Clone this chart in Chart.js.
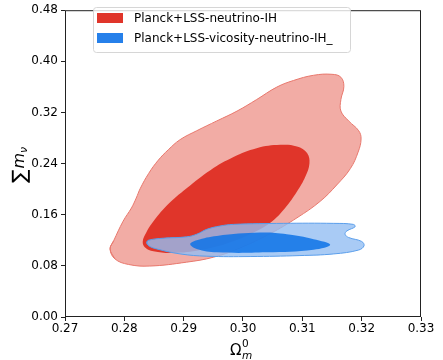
<!DOCTYPE html>
<html>
<head>
<meta charset="utf-8">
<script src="https://cdn.jsdelivr.net/npm/chart.js@4.4.1/dist/chart.umd.min.js"></script>
<style>
  body { margin: 0; background: #fff; }
  #wrap { width: 443px; height: 360px; }
</style>
</head>
<body>
<div id="wrap"><canvas id="contourChart"></canvas></div>
<script>
const xTicks = [0.27, 0.28, 0.29, 0.30, 0.31, 0.32, 0.33];
const yTicks = [0.00, 0.08, 0.16, 0.24, 0.32, 0.40, 0.48];
const legendLabels = ["Planck+LSS-neutrino-IH", "Planck+LSS-vicosity-neutrino-IH_"];

// contour outlines (Omega_m^0, sum m_nu)
const redOuterX = [0.2776, 0.2782, 0.2798, 0.2812, 0.2820, 0.2827, 0.2841, 0.2857, 0.2874, 0.2894,
  0.2922, 0.2956, 0.2990, 0.3023, 0.3057, 0.3085, 0.3119, 0.3150, 0.3165, 0.3170, 0.3165, 0.3165,
  0.3178, 0.3195, 0.3199, 0.3194, 0.3181, 0.3158, 0.3130, 0.3091, 0.3046, 0.2995, 0.2950, 0.2905,
  0.2843, 0.2807, 0.2784];
const redOuterY = [0.1064, 0.1192, 0.1500, 0.1706, 0.1860, 0.2014, 0.2246, 0.2451, 0.2616, 0.2775,
  0.2914, 0.3068, 0.3222, 0.3402, 0.3597, 0.3700, 0.3782, 0.3797, 0.3751, 0.3607, 0.3402, 0.3222,
  0.3068, 0.2914, 0.2785, 0.2580, 0.2323, 0.2066, 0.1809, 0.1552, 0.1305, 0.1079, 0.0935, 0.0858,
  0.0797, 0.0822, 0.0910];

const redInnerX = [0.2831, 0.2837, 0.2846, 0.2872, 0.2905, 0.2945, 0.2984, 0.3023, 0.3063, 0.3091,
  0.3108, 0.3112, 0.3105, 0.3091, 0.3071, 0.3046, 0.3012, 0.2973, 0.2928, 0.2883, 0.2849, 0.2835];
const redInnerY = [0.1182, 0.1321, 0.1459, 0.1747, 0.2014, 0.2297, 0.2503, 0.2641, 0.2693, 0.2667,
  0.2564, 0.2400, 0.2194, 0.1963, 0.1706, 0.1475, 0.1295, 0.1151, 0.1048, 0.1002, 0.1028, 0.1089];

const blueOuterX = [0.2838, 0.2841, 0.2866, 0.2905, 0.2922, 0.2939, 0.2961, 0.2984, 0.3068, 0.3153,
  0.3186, 0.3189, 0.3175, 0.3172, 0.3178, 0.3200, 0.3204, 0.3195, 0.3153, 0.3096, 0.3012, 0.2939,
  0.2894, 0.2855, 0.2841];
const blueOuterY = [0.1166, 0.1202, 0.1233, 0.1254, 0.1295, 0.1372, 0.1423, 0.1449, 0.1465, 0.1465,
  0.1449, 0.1413, 0.1346, 0.1295, 0.1244, 0.1182, 0.1115, 0.1048, 0.0987, 0.0961, 0.0946, 0.0951,
  0.0987, 0.1064, 0.1115];

const blueInnerX = [0.2911, 0.2922, 0.2956, 0.3029, 0.3074, 0.3119, 0.3147, 0.3119, 0.3040, 0.2956, 0.2922];
const blueInnerY = [0.1141, 0.1202, 0.1269, 0.1321, 0.1295, 0.1218, 0.1131, 0.1053, 0.1012, 0.1012, 0.1064];

const redColor = "#e0352a";
const blueColor = "#2680ea";

// wrap the outline so the spline closes smoothly
function loop(xs, ys) {
    const pts = xs.map((x, i) => ({ x: x, y: ys[i] }));
    const n = pts.length;
    return [pts[n - 1]].concat(pts, [pts[0], pts[1]]);
}

function contour(xs, ys, fill, border, order) {
    return {
        data: loop(xs, ys),
        showLine: true,
        fill: "shape",
        backgroundColor: fill,
        borderColor: border || "rgba(0,0,0,0)",
        borderWidth: border ? 1 : 0,
        pointRadius: 0,
        tension: 0.4,
        order: order
    };
}

const overlayPlugin = {
    id: "overlay",
    afterDraw(chart) {
        const ctx = chart.ctx;
        const a = chart.chartArea;
        ctx.save();

        // frame
        ctx.strokeStyle = "#222";
        ctx.lineWidth = 1;
        ctx.strokeRect(a.left + 0.5, a.top + 0.5, a.right - a.left - 1, a.bottom - a.top - 1);

        // legend box
        const bx = 93.5, by = 7.5, bw = 257, bh = 45, r = 3;
        ctx.beginPath();
        ctx.moveTo(bx + r, by);
        ctx.arcTo(bx + bw, by, bx + bw, by + bh, r);
        ctx.arcTo(bx + bw, by + bh, bx, by + bh, r);
        ctx.arcTo(bx, by + bh, bx, by, r);
        ctx.arcTo(bx, by, bx + bw, by, r);
        ctx.closePath();
        ctx.fillStyle = "rgba(255,255,255,0.8)";
        ctx.fill();
        ctx.strokeStyle = "#d6d6d6";
        ctx.stroke();

        const swatch = [redColor, blueColor];
        ctx.font = "12px 'DejaVu Sans'";
        ctx.textBaseline = "middle";
        legendLabels.forEach((label, i) => {
            const cy = 18 + i * 20;
            ctx.fillStyle = swatch[i];
            ctx.fillRect(97, cy - 5, 26, 10);
            ctx.fillStyle = "#000";
            ctx.fillText(label, 134, cy + 0.5);
        });

        // x title: Omega_m^0
        ctx.textBaseline = "alphabetic";
        ctx.fillStyle = "#000";
        ctx.font = "15px 'DejaVu Sans'";
        const ox = 230;
        ctx.fillText("Ω", ox, 355);
        const ow = ctx.measureText("Ω").width;
        ctx.font = "10.5px 'DejaVu Sans'";
        ctx.fillText("0", ox + ow + 0.5, 347);
        ctx.font = "italic 10.5px 'DejaVu Sans'";
        ctx.fillText("m", ox + ow + 0.5, 359);

        // y title: sum m_nu
        ctx.save();
        ctx.translate(26, 183);
        ctx.rotate(-Math.PI / 2);
        ctx.font = "20px 'DejaVu Sans'";
        ctx.fillText("∑", 0, 0);
        let w = ctx.measureText("∑").width + 1;
        ctx.font = "italic 16px 'DejaVu Sans'";
        ctx.fillText("m", w, -2);
        w += ctx.measureText("m").width;
        ctx.font = "italic 11px 'DejaVu Sans'";
        ctx.fillText("ν", w, 1);
        ctx.restore();

        ctx.restore();
    }
};

document.addEventListener("DOMContentLoaded", function () {
    const ctx = document.getElementById("contourChart").getContext("2d");

    new Chart(ctx, {
        type: "scatter",
        data: {
            datasets: [
                contour(redOuterX, redOuterY, "#f2aca5", "#e8786d", 4),
                contour(redInnerX, redInnerY, redColor, null, 3),
                contour(blueOuterX, blueOuterY, "rgba(147,190,242,0.8)", "#5a9eeb", 2),
                contour(blueInnerX, blueInnerY, "rgba(14,115,232,0.85)", null, 1)
            ]
        },
        options: {
            responsive: true,
            maintainAspectRatio: false,
            animation: false,
            layout: { padding: { top: 6, right: 22, left: 0, bottom: 0 } },
            plugins: {
                legend: { display: false },
                tooltip: { enabled: false }
            },
            scales: {
                x: {
                    type: "linear",
                    min: 0.27,
                    max: 0.33,
                    afterBuildTicks: s => { s.ticks = xTicks.map(v => ({ value: v })); },
                    afterFit: s => { s.height = 43; },
                    grid: { drawOnChartArea: false, drawTicks: true, tickLength: 4, color: "#222" },
                    border: { display: false },
                    ticks: {
                        color: "#000",
                        font: { family: "DejaVu Sans", size: 12 },
                        padding: 1,
                        maxRotation: 0,
                        autoSkip: false,
                        callback: v => v.toFixed(2)
                    }
                },
                y: {
                    type: "linear",
                    min: 0,
                    max: 0.48,
                    afterBuildTicks: s => { s.ticks = yTicks.map(v => ({ value: v })); },
                    afterFit: s => { s.width = 65; },
                    grid: { drawOnChartArea: false, drawTicks: true, tickLength: 4, color: "#222" },
                    border: { display: false },
                    ticks: {
                        color: "#000",
                        font: { family: "DejaVu Sans", size: 12 },
                        padding: 3,
                        autoSkip: false,
                        callback: v => v.toFixed(2)
                    }
                }
            }
        },
        plugins: [overlayPlugin]
    });
});
</script>
</body>
</html>
